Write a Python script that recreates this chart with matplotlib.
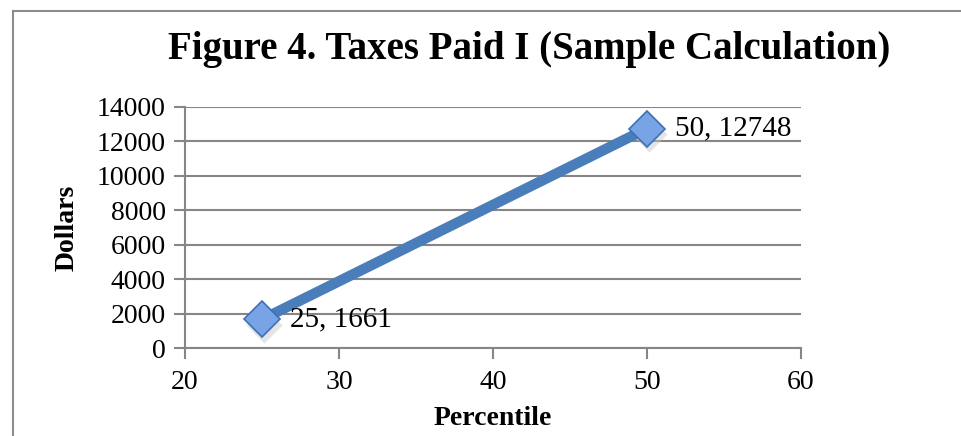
import matplotlib
matplotlib.use("Agg")
import matplotlib.pyplot as plt
from matplotlib.lines import Line2D

# Percentile vs. taxes paid
percentile = [25, 50]
dollars = [1661, 12748]
x_ticks = [20, 30, 40, 50, 60]
y_ticks = [0, 2000, 4000, 6000, 8000, 10000, 12000, 14000]

plt.rcParams['font.family'] = ['Liberation Serif', 'DejaVu Serif']

fig = plt.figure(figsize=(9.61, 4.36), dpi=100)
ax = fig.add_axes([0.1925, 0.2018, 0.641, 0.5528])

# chart border (left and top edges visible)
fig.add_artist(Line2D([13/961, 13/961], [0, 1 - 11/436], transform=fig.transFigure,
                      color='#8c8c8c', lw=1.5))
fig.add_artist(Line2D([13/961, 1], [1 - 11/436, 1 - 11/436], transform=fig.transFigure,
                      color='#8c8c8c', lw=1.5))

ax.set_xlim(20, 60)
ax.set_ylim(0, 14000)
ax.set_xticks(x_ticks)
ax.set_yticks(y_ticks)
ax.grid(axis='y', color='#868686', lw=1.5)
ax.set_axisbelow(True)

for s in ['top', 'right']:
    ax.spines[s].set_visible(False)
for s in ['left', 'bottom']:
    ax.spines[s].set_color('#868686')
    ax.spines[s].set_linewidth(1.5)

ax.tick_params(axis='both', color='#868686', width=1.5, length=8, labelsize=20)
ax.tick_params(axis='x', pad=8)
ax.tick_params(axis='y', pad=6)

# shadow under markers
ax.plot([p + 0.15 for p in percentile], [d - 300 for d in dollars], ls='none',
        marker='D', ms=18, mfc='#c4c4c4', mec='none', alpha=0.45, zorder=2)
ax.plot(percentile, dollars, color='#4a7ebb', lw=7.5, solid_capstyle='butt', zorder=3)
ax.plot(percentile, dollars, ls='none', marker='D', ms=18, mfc='#78a4e6',
        mec='#3f6fb5', mew=1.2, zorder=4)

for p, d in zip(percentile, dollars):
    ax.annotate(f"{p}, {d}", (p, d), xytext=(20, 0), textcoords='offset points',
                fontsize=21, va='center', ha='left', zorder=5)

ax.set_xlabel('Percentile', fontsize=20, fontweight='bold', labelpad=8)
ax.set_ylabel('Dollars', fontsize=20, fontweight='bold', labelpad=12)
fig.text(529/961, 1 - 50/436, 'Figure 4. Taxes Paid I (Sample Calculation)',
         fontsize=28, fontweight='bold', ha='center', va='center')

fig.savefig('out.png', dpi=100)
